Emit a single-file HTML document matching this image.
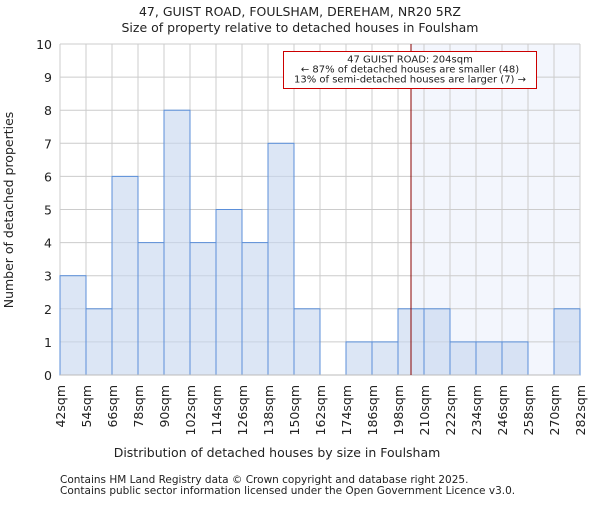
<!DOCTYPE html>
<html><head><meta charset="utf-8"><style>
body{margin:0;background:#fff;}
svg text{font-family:"DejaVu Sans","Liberation Sans",sans-serif;fill:#222;}
</style></head><body>
<svg id="c" width="600" height="500">
<text x="300" y="16" text-anchor="middle" font-size="12.5">47, GUIST ROAD, FOULSHAM, DEREHAM, NR20 5RZ</text>
<text x="300" y="32" text-anchor="middle" font-size="12.5">Size of property relative to detached houses in Foulsham</text>
<g id="plot"></g>
<text x="277" y="457" text-anchor="middle" font-size="12.5">Distribution of detached houses by size in Foulsham</text>
<text transform="translate(13,210) rotate(-90)" text-anchor="middle" font-size="12.5">Number of detached properties</text>
<text x="60" y="483" font-size="10.5" fill="#444">Contains HM Land Registry data © Crown copyright and database right 2025.</text>
<text x="60" y="494" font-size="10.5" fill="#444">Contains public sector information licensed under the Open Government Licence v3.0.</text>
</svg>
<script>
const binStarts=[42,54,66,78,90,102,114,126,138,150,162,174,186,198,210,222,234,246,258,270];
const counts=[3,2,6,4,8,4,5,4,7,2,0,1,1,2,2,1,1,1,0,2];
const yTicks=[0,1,2,3,4,5,6,7,8,9,10];
const subjectSize=204;
const binW=12;
const X0=60,X1=580,Y0=375,Y1=44,xmin=42,xmax=282,ymax=10;
const xs=v=>X0+(v-xmin)/(xmax-xmin)*(X1-X0);
const ys=v=>Y0-v/ymax*(Y0-Y1);
const NS="http://www.w3.org/2000/svg";
const g=document.getElementById('plot');
function mk(t,a){const e=document.createElementNS(NS,t);for(const k in a)e.setAttribute(k,a[k]);g.appendChild(e);return e;}
let r=mk('rect',{x:xs(subjectSize),y:Y1,width:X1-xs(subjectSize),height:Y0-Y1,fill:'#f3f6fd'});


yTicks.forEach(t=>{const l=mk('line',{x1:X0,x2:X1,y1:ys(t),y2:ys(t),stroke:'#ccc'});
 
 
 const tx=mk('text',{x:X0-8,y:ys(t)+5,'text-anchor':'end','font-size':12.5});tx.textContent=t;
 
 
});
const edges=binStarts.concat([binStarts[binStarts.length-1]+binW]);
edges.forEach(b=>{const l=mk('line',{x1:xs(b),x2:xs(b),y1:Y1,y2:Y0,stroke:'#ccc'});
 
 
 const tx=mk('text',{transform:`translate(${xs(b)+5},385) rotate(-90)`,'text-anchor':'end','font-size':12.5});tx.textContent=b+'sqm';
 
 
});
binStarts.forEach((b,i)=>{if(counts[i]<=0)return;
 const e=mk('rect',{x:xs(b),y:ys(counts[i]),width:xs(b+binW)-xs(b),height:Y0-ys(counts[i]),fill:'#c5d6ee','fill-opacity':0.6,stroke:'#5b8fd9','stroke-width':1});
 
 
});
let ax=mk('line',{x1:X0,x2:X1,y1:Y0,y2:Y0,stroke:'#bbb'});


let ml=mk('line',{x1:xs(subjectSize),x2:xs(subjectSize),y1:Y1,y2:Y0,stroke:'#800','stroke-width':1});


let box=mk('rect',{x:283.5,y:51.5,width:253,height:37,fill:'#fff',stroke:'#c00'});


['47 GUIST ROAD: 204sqm','← 87% of detached houses are smaller (48)','13% of semi-detached houses are larger (7) →'].forEach((s,i)=>{
 const t=mk('text',{x:410,y:62.5+i*10,'text-anchor':'middle','font-size':10});t.textContent=s;
 
 
});
</script>
</body></html>
